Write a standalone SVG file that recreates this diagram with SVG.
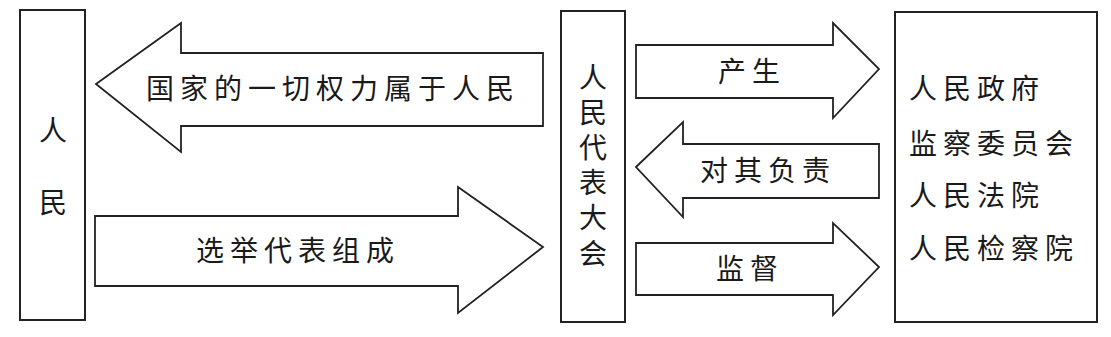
<svg xmlns="http://www.w3.org/2000/svg" width="1111" height="337" viewBox="0 0 1111 337">
<style>
.box{fill:#fff;stroke:#222;stroke-width:2}
.arr{fill:#fff;stroke:#222;stroke-width:1.8;stroke-linejoin:miter}
text{font-family:"Noto Sans CJK SC","Noto Sans CJK JP",sans-serif;font-size:28px;fill:#1a1a1a;letter-spacing:6px}
.v{writing-mode:vertical-rl}
</style>
<rect width="1111" height="337" fill="#fff"/>
<g id="connectors">
<g id="arrow-power">
<polygon class="arr" points="96,84 181,23 181,53 543,53 543,126 181,126 181,152"/>
<text x="146" y="99">国家的一切权力属于人民</text>
</g>
<g id="arrow-elect">
<polygon class="arr" points="95,216 458,216 458,187 543,247 458,313 458,286 95,286"/>
<text x="196" y="261">选举代表组成</text>
</g>
<g id="arrow-produce">
<polygon class="arr" points="636,45 833,45 833,23 879,69 833,118 833,98 636,98"/>
<text x="718" y="82">产生</text>
</g>
<g id="arrow-responsible">
<polygon class="arr" points="636,167 683,122 683,144 879,144 879,198 683,198 683,217"/>
<text x="700" y="181">对其负责</text>
</g>
<g id="arrow-supervise">
<polygon class="arr" points="636,243 833,243 833,223 879,267 833,315 833,295 636,295"/>
<text x="716" y="279">监督</text>
</g>
</g>
<g id="node-people">
<rect class="box" x="20" y="10" width="65" height="310"/>
<text class="v" x="53" y="116" style="letter-spacing:44px">人民</text>
</g>
<g id="node-npc">
<rect class="box" x="561" y="11" width="64" height="311"/>
<text class="v" x="593" y="63" style="letter-spacing:7.2px">人民代表大会</text>
</g>
<g id="node-organs">
<rect class="box" x="895" y="12" width="202" height="310"/>
<text x="909" y="99">人民政府</text>
<text x="909" y="154">监察委员会</text>
<text x="909" y="206">人民法院</text>
<text x="909" y="259">人民检察院</text>
</g>
</svg>
